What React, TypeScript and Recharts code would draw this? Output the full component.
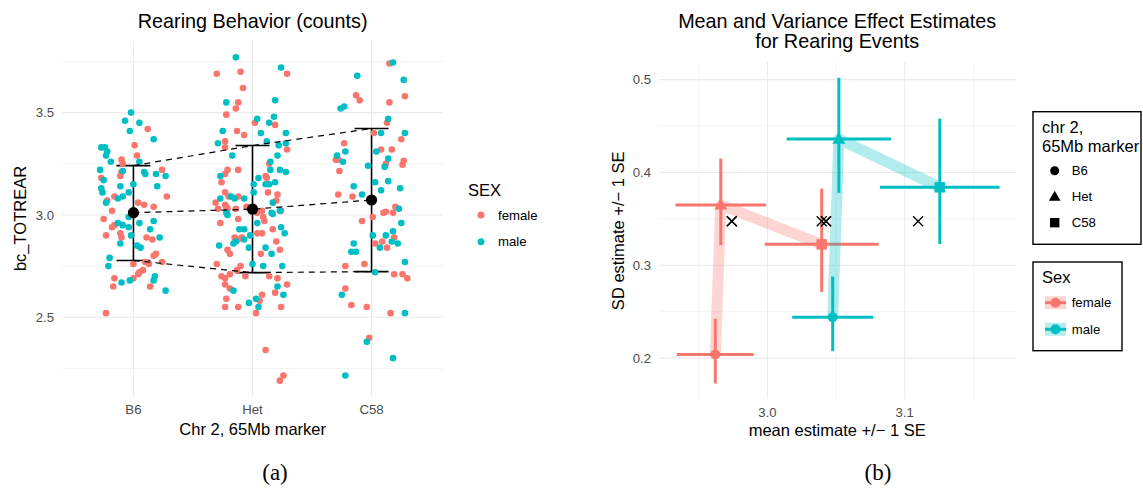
import React from 'react';
import { ComposedChart, Scatter, XAxis, YAxis, ReferenceLine, ErrorBar } from 'recharts';

const RED = '#F8766D';
const CYAN = '#00BFC4';
const GRID = '#EBEBEB';
const TICK = '#4D4D4D';
const FONT = '"Liberation Sans", Arial, Helvetica, sans-serif';

const genotypes = ['B6', 'Het', 'C58'];

// ---- Panel (a): jittered observations [jitter (category units), bc_TOTREAR] ----
const b6Female: [number, number][] = [
  [0.12, 3.42], [0.01, 3.34], [0.03, 3.29], [-0.1, 3.27], [-0.09, 3.25], [0.24, 3.22], [-0.1, 3.21], [-0.11, 3.19],
  [-0.27, 3.18], [-0.16, 3.09], [0.28, 3.09], [-0.22, 3.07], [0.04, 3.06], [0.09, 3.05], [0.17, 3.04], [-0.18, 3.02],
  [-0.25, 2.98], [-0.18, 2.94], [-0.16, 2.95], [-0.23, 2.9], [-0.11, 2.91], [-0.1, 2.89], [0.11, 2.89], [0.16, 2.88],
  [0.19, 2.81], [0.17, 2.8], [0.0, 2.76], [0.1, 2.77], [0.13, 2.76], [0.24, 2.77], [0.08, 2.73], [0.05, 2.72],
  [0.04, 2.71], [-0.16, 2.69], [0.0, 2.69], [-0.17, 2.65], [0.14, 2.65], [-0.23, 2.52],
];
const b6Male: [number, number][] = [
  [-0.02, 3.5], [-0.07, 3.46], [0.05, 3.45], [-0.03, 3.41], [0.17, 3.37], [-0.27, 3.33], [-0.24, 3.33], [-0.22, 3.31],
  [-0.23, 3.29], [-0.19, 3.26], [0.05, 3.26], [-0.28, 3.22], [-0.09, 3.215], [0.09, 3.21], [0.1, 3.2], [0.19, 3.2],
  [0.27, 3.19], [-0.25, 3.17], [0.0, 3.15], [-0.27, 3.13], [-0.26, 3.11], [-0.11, 3.14], [0.2, 3.14], [-0.09, 3.09],
  [-0.13, 3.08], [-0.04, 3.11], [-0.23, 3.06], [-0.04, 2.99], [0.05, 2.96], [0.17, 2.97], [-0.13, 2.96], [-0.09, 2.95],
  [-0.04, 2.94], [-0.02, 2.9], [0.14, 2.93], [0.22, 2.89], [-0.11, 2.86], [0.03, 2.85], [0.06, 2.84], [-0.2, 2.79],
  [-0.21, 2.75], [0.18, 2.7], [0.17, 2.68], [-0.1, 2.67], [-0.03, 2.68], [0.27, 2.63],
];
const hetFemale: [number, number][] = [
  [-0.3, 3.69], [-0.1, 3.7], [-0.08, 3.62], [-0.12, 3.55], [-0.14, 3.52], [-0.22, 3.49], [0.02, 3.45], [0.19, 3.44],
  [-0.13, 3.41], [-0.07, 3.39], [-0.23, 3.36], [-0.23, 3.33], [0.14, 3.25], [-0.21, 3.22], [-0.23, 3.2], [-0.12, 3.22],
  [-0.26, 3.16], [0.11, 3.19], [0.12, 3.18], [-0.23, 3.11], [-0.2, 3.09], [-0.12, 3.09], [0.21, 3.1], [0.2, 3.07],
  [-0.23, 3.05], [-0.21, 3.03], [-0.29, 3.03], [0.24, 3.02], [0.29, 3.69], [0.29, 3.32], [0.13, 3.11], [-0.22, 3.04],
  [-0.14, 3.03], [0.04, 3.01], [0.08, 3.02], [-0.31, 3.06], [-0.05, 3.04],
  [-0.27, 2.96], [-0.12, 2.98], [0.09, 2.99], [0.1, 2.97], [-0.15, 2.89], [-0.12, 2.88], [-0.09, 2.89], [0.04, 2.91],
  [0.08, 2.91], [0.17, 2.93], [0.2, 2.87], [-0.21, 2.83], [-0.19, 2.81], [0.07, 2.81], [0.23, 2.83], [-0.3, 2.76],
  [-0.1, 2.75], [-0.13, 2.73], [-0.26, 2.7], [-0.23, 2.69], [-0.19, 2.71], [-0.06, 2.7], [0.14, 2.7], [0.21, 2.69],
  [-0.23, 2.66], [-0.19, 2.64], [0.19, 2.62], [0.08, 2.61], [-0.22, 2.59], [0.06, 2.58], [-0.12, 2.55], [-0.23, 2.55],
  [0.24, 2.55], [0.03, 2.52], [0.11, 2.34], [0.23, 2.19], [0.26, 2.215], [0.29, 2.66],
];
const hetMale: [number, number][] = [
  [-0.14, 3.77], [0.24, 3.72], [-0.22, 3.55], [0.19, 3.56], [0.04, 3.47], [0.18, 3.48], [0.14, 3.45], [-0.25, 3.41],
  [0.07, 3.4], [-0.29, 3.35], [-0.17, 3.29], [0.12, 3.36], [0.22, 3.34], [0.15, 3.26], [0.21, 3.29], [-0.27, 3.19],
  [0.05, 3.18], [0.15, 3.22], [0.23, 3.22], [0.14, 3.15], [0.19, 3.16], [-0.18, 3.09], [-0.15, 3.08], [-0.07, 3.08],
  [-0.27, 3.08], [0.01, 3.11], [0.17, 3.06], [-0.22, 3.01], [0.16, 3.01], [0.28, 3.4], [0.28, 3.35], [0.28, 3.21],
  [0.01, 3.15], [0.11, 3.15], [0.23, 3.02],
  [-0.21, 3.0], [0.04, 2.96], [0.17, 3.005], [-0.11, 2.93], [-0.07, 2.93], [-0.02, 2.9], [-0.07, 2.88], [0.24, 2.94],
  [-0.28, 2.85], [-0.16, 2.86], [-0.14, 2.87], [-0.03, 2.84], [0.11, 2.84], [0.16, 2.81], [0.0, 2.76], [0.09, 2.75],
  [0.25, 2.75], [-0.16, 2.63], [0.21, 2.65], [0.26, 2.61], [0.03, 2.59], [-0.03, 2.57], [0.05, 2.55], [0.27, 2.91],
];
const c58Female: [number, number][] = [
  [0.15, 3.74], [-0.13, 3.585], [-0.1, 3.56], [0.15, 3.55], [0.13, 3.45], [0.02, 3.4], [-0.23, 3.35], [-0.3, 3.27],
  [-0.28, 3.27], [-0.27, 3.215], [0.08, 3.32], [0.17, 3.32], [0.12, 3.25], [-0.28, 3.1], [-0.16, 3.09], [0.1, 3.01],
  [0.12, 3.015], [0.2, 3.04], [0.28, 3.58], [0.25, 3.37], [0.27, 3.265], [0.26, 3.245], [0.18, 3.01], [-0.08, 2.97],
  [0.01, 2.99], [0.03, 2.86], [0.09, 2.87], [0.13, 2.84], [-0.22, 2.75], [-0.06, 2.76], [0.19, 2.71], [-0.22, 2.64],
  [-0.17, 2.56], [-0.04, 2.55], [0.16, 2.52], [-0.02, 2.4], [0.19, 2.89], [0.26, 2.71], [0.3, 2.69],
];
const c58Male: [number, number][] = [
  [0.18, 3.745], [-0.12, 3.68], [-0.26, 3.52], [-0.23, 3.53], [0.14, 3.47], [0.08, 3.4], [-0.29, 3.29], [-0.22, 3.31],
  [-0.24, 3.26], [0.04, 3.31], [0.14, 3.275], [0.11, 3.235], [-0.03, 3.24], [0.03, 3.16], [0.14, 3.165], [0.08, 3.12],
  [-0.15, 3.14], [-0.08, 3.1], [0.27, 3.66], [0.28, 3.4], [0.24, 3.13], [0.23, 3.03], [0.25, 2.96], [0.01, 2.9],
  [0.12, 2.9], [0.18, 2.92], [0.17, 2.87], [-0.15, 2.86], [-0.17, 2.82], [-0.13, 2.82], [0.07, 2.84], [0.03, 2.72],
  [-0.25, 2.61], [-0.04, 2.38], [0.18, 2.3], [-0.22, 2.215], [0.22, 2.86], [0.28, 2.77], [0.28, 2.52],
];

const summaryMean = [3.011, 3.028, 3.073];
const summaryUpper = [3.241, 3.339, 3.422];
const summaryLower = [2.777, 2.718, 2.723];

const leftYTicks = [2.5, 3.0, 3.5];
const leftYMinor = [2.25, 2.75, 3.25, 3.75];

// ---- Panel (b): mean / SD estimates ----
const femaleMean = [2.962, 2.966, 3.0395];
const femaleMeanLow = [2.934, 2.933, 2.998];
const femaleMeanHigh = [2.99, 2.999, 3.081];
const femaleSD = [0.204, 0.365, 0.3226];
const femaleSDLow = [0.1727, 0.3217, 0.2713];
const femaleSDHigh = [0.2425, 0.415, 0.3826];

const maleMean = [3.0475, 3.052, 3.1255];
const maleMeanLow = [3.018, 3.014, 3.082];
const maleMeanHigh = [3.077, 3.09, 3.169];
const maleSD = [0.244, 0.436, 0.384];
const maleSDLow = [0.2075, 0.378, 0.323];
const maleSDHigh = [0.288, 0.502, 0.458];

const crossMean = [2.974, 2.974, 3.0395, 3.0426, 3.0426, 3.1097];
const crossSD = [0.3474, 0.3474, 0.3474, 0.3474, 0.3474, 0.3474];

const rightXTicks = [3.0, 3.1];
const rightXMinor = [2.95, 3.05, 3.15];
const rightYTicks = [0.2, 0.3, 0.4, 0.5];
const rightYMinor = [0.25, 0.35, 0.45];

// ---- derived data ----
const toPts = (arr: [number, number][], idx: number) => arr.map(([j, v]) => ({ x: idx + 1 + j, y: v }));
const femaleObs = [...toPts(b6Female, 0), ...toPts(hetFemale, 1), ...toPts(c58Female, 2)];
const maleObs = [...toPts(b6Male, 0), ...toPts(hetMale, 1), ...toPts(c58Male, 2)];
const summaryPts = genotypes.map((g, i) => ({
  x: i + 1,
  y: summaryMean[i],
  err: [summaryMean[i] - summaryLower[i], summaryUpper[i] - summaryMean[i]],
}));
const lineOf = (vals: number[]) => vals.map((v, i) => ({ x: i + 1, y: v }));

const est = (m: number[], ml: number[], mh: number[], s: number[], sl: number[], sh: number[]) =>
  genotypes.map((g, i) => ({
    geno: g,
    x: m[i],
    y: s[i],
    xErr: [m[i] - ml[i], mh[i] - m[i]],
    yErr: [s[i] - sl[i], sh[i] - s[i]],
  }));
const femaleEst = est(femaleMean, femaleMeanLow, femaleMeanHigh, femaleSD, femaleSDLow, femaleSDHigh);
const maleEst = est(maleMean, maleMeanLow, maleMeanHigh, maleSD, maleSDLow, maleSDHigh);
const crossPts = crossMean.map((m, i) => ({ x: m, y: crossSD[i] }));

const empty = () => <g />;
const dot = (color: string, r: number) => (p: any) => <circle cx={p.cx} cy={p.cy} r={r} fill={color} />;

const GenoSymbol = ({ geno, cx, cy, color, s = 1 }: any) => {
  if (geno === 'B6') return <circle cx={cx} cy={cy} r={5 * s} fill={color} />;
  if (geno === 'Het')
    return (
      <polygon
        points={`${cx},${cy - 6.5 * s} ${cx - 6.5 * s},${cy + 4.6 * s} ${cx + 6.5 * s},${cy + 4.6 * s}`}
        fill={color}
      />
    );
  return <rect x={cx - 5.2 * s} y={cy - 5.2 * s} width={10.4 * s} height={10.4 * s} fill={color} />;
};
const genoShape = (color: string) => (p: any) => (
  <GenoSymbol geno={p.payload && p.payload.geno} cx={p.cx} cy={p.cy} color={color} />
);
const crossShape = (p: any) => (
  <g stroke="#000" strokeWidth={1.3}>
    <line x1={p.cx - 5} y1={p.cy - 5} x2={p.cx + 5} y2={p.cy + 5} />
    <line x1={p.cx - 5} y1={p.cy + 5} x2={p.cx + 5} y2={p.cy - 5} />
  </g>
);

const tickStyle = { fill: TICK, fontSize: 13.2 };

function LeftChart() {
  return (
    <ComposedChart width={560} height={440} margin={{ top: 41, right: 117, bottom: 14, left: 12 }}>
      {leftYMinor.map((v) => (
        <ReferenceLine key={'ym' + v} y={v} stroke={GRID} strokeWidth={0.6} />
      ))}
      {leftYTicks.map((v) => (
        <ReferenceLine key={'y' + v} y={v} stroke={GRID} strokeWidth={1.1} />
      ))}
      {[1, 2, 3].map((v) => (
        <ReferenceLine key={'x' + v} x={v} stroke={GRID} strokeWidth={1.1} />
      ))}
      <XAxis
        type="number"
        dataKey="x"
        domain={[0.4, 3.6]}
        ticks={[1, 2, 3]}
        interval={0}
        tickFormatter={(v: number) => genotypes[Math.round(v) - 1]}
        axisLine={false}
        tickLine={false}
        tickSize={6}
        tickMargin={3}
        height={30}
        tick={tickStyle}
        allowDataOverflow
      />
      <YAxis
        type="number"
        dataKey="y"
        domain={[2.115, 3.85]}
        ticks={leftYTicks}
        interval={0}
        tickFormatter={(v: number) => v.toFixed(1)}
        axisLine={false}
        tickLine={false}
        tickSize={6}
        tickMargin={2}
        width={50}
        tick={tickStyle}
        allowDataOverflow
      />
      <Scatter data={femaleObs} shape={dot(RED, 3.3)} isAnimationActive={false} />
      <Scatter data={maleObs} shape={dot(CYAN, 3.3)} isAnimationActive={false} />
      {[summaryUpper, summaryMean, summaryLower].map((vals, k) => (
        <Scatter
          key={'dash' + k}
          data={lineOf(vals)}
          line={{ stroke: '#000', strokeWidth: 1.2, strokeDasharray: '6 5' }}
          shape={empty}
          isAnimationActive={false}
        />
      ))}
      <Scatter data={summaryPts} shape={dot('#000', 5.6)} isAnimationActive={false}>
        <ErrorBar dataKey="err" direction="y" width={17} stroke="#000" strokeWidth={1.6} />
      </Scatter>
    </ComposedChart>
  );
}

function RightChart() {
  return (
    <ComposedChart width={563} height={440} margin={{ top: 62, right: 127, bottom: 11, left: 29 }}>
      {rightYMinor.map((v) => (
        <ReferenceLine key={'ym' + v} y={v} stroke={GRID} strokeWidth={0.6} />
      ))}
      {rightYTicks.map((v) => (
        <ReferenceLine key={'y' + v} y={v} stroke={GRID} strokeWidth={1.1} />
      ))}
      {rightXMinor.map((v) => (
        <ReferenceLine key={'xm' + v} x={v} stroke={GRID} strokeWidth={0.6} />
      ))}
      {rightXTicks.map((v) => (
        <ReferenceLine key={'x' + v} x={v} stroke={GRID} strokeWidth={1.1} />
      ))}
      <XAxis
        type="number"
        dataKey="x"
        domain={[2.921, 3.181]}
        ticks={rightXTicks}
        interval={0}
        tickFormatter={(v: number) => v.toFixed(1)}
        axisLine={false}
        tickLine={false}
        tickSize={6}
        tickMargin={3}
        height={30}
        tick={tickStyle}
        allowDataOverflow
      />
      <YAxis
        type="number"
        dataKey="y"
        domain={[0.156, 0.519]}
        ticks={rightYTicks}
        interval={0}
        tickFormatter={(v: number) => v.toFixed(1)}
        axisLine={false}
        tickLine={false}
        tickSize={6}
        tickMargin={2}
        width={50}
        tick={tickStyle}
        allowDataOverflow
      />
      <Scatter
        data={femaleEst}
        line={{ stroke: RED, strokeOpacity: 0.3, strokeWidth: 11, strokeLinejoin: 'round' }}
        shape={empty}
        isAnimationActive={false}
      />
      <Scatter
        data={maleEst}
        line={{ stroke: CYAN, strokeOpacity: 0.3, strokeWidth: 11, strokeLinejoin: 'round' }}
        shape={empty}
        isAnimationActive={false}
      />
      <Scatter data={femaleEst} shape={genoShape(RED)} isAnimationActive={false}>
        <ErrorBar dataKey="xErr" direction="x" width={0} stroke={RED} strokeWidth={3} />
        <ErrorBar dataKey="yErr" direction="y" width={0} stroke={RED} strokeWidth={3} />
      </Scatter>
      <Scatter data={maleEst} shape={genoShape(CYAN)} isAnimationActive={false}>
        <ErrorBar dataKey="xErr" direction="x" width={0} stroke={CYAN} strokeWidth={3} />
        <ErrorBar dataKey="yErr" direction="y" width={0} stroke={CYAN} strokeWidth={3} />
      </Scatter>
      <Scatter data={crossPts} shape={crossShape} isAnimationActive={false} />
    </ComposedChart>
  );
}

function Overlay() {
  const t = (x: number, y: number, s: string, size: number, anchor: string = 'start', fill = '#000', extra: any = {}) => (
    <text x={x} y={y} fontSize={size} textAnchor={anchor} fill={fill} {...extra}>
      {s}
    </text>
  );
  return (
    <svg
      width={1143}
      height={491}
      style={{ position: 'absolute', left: 0, top: 0, pointerEvents: 'none', fontFamily: FONT }}
    >
      {/* panel (a) texts */}
      {t(252.7, 28, 'Rearing Behavior (counts)', 19.8, 'middle')}
      {t(252.7, 435, 'Chr 2, 65Mb marker', 16.5, 'middle')}
      <text x={0} y={0} fontSize={16.5} textAnchor="middle" transform="translate(25.5,218.5) rotate(-90)">
        bc_TOTREAR
      </text>
      {t(468, 196, 'SEX', 16.5)}
      <circle cx={481} cy={215} r={3.5} fill={RED} />
      {t(498, 219.6, 'female', 13.2)}
      <circle cx={481} cy={241.7} r={3.5} fill={CYAN} />
      {t(498, 246.3, 'male', 13.2)}

      {/* panel (b) texts */}
      {t(837.2, 27.5, 'Mean and Variance Effect Estimates', 19.8, 'middle')}
      {t(837.2, 48, 'for Rearing Events', 19.8, 'middle')}
      {t(837.2, 436, 'mean estimate +/\u2212 1 SE', 16.5, 'middle')}
      <text x={0} y={0} fontSize={16.5} textAnchor="middle" transform="translate(624,230.8) rotate(-90)">
        SD estimate +/{'\u2212'} 1 SE
      </text>

      {/* legend: marker */}
      <rect x={1033} y={111.7} width={108} height={132.6} fill="#fff" stroke="#000" strokeWidth={1.4} />
      {t(1042, 133, 'chr 2,', 16.5)}
      {t(1042, 152, '65Mb marker', 16.5)}
      {genotypes.map((g, i) => (
        <g key={g}>
          <GenoSymbol geno={g} cx={1054.7} cy={170.7 + i * 26} color="#000" s={0.9} />
          {t(1071.7, 175.3 + i * 26, g, 13.2)}
        </g>
      ))}

      {/* legend: sex */}
      <rect x={1033} y={262} width={89} height={88.7} fill="#fff" stroke="#000" strokeWidth={1.4} />
      {t(1042, 283.3, 'Sex', 16.5)}
      {[
        ['female', RED],
        ['male', CYAN],
      ].map(([lab, col], i) => {
        const cy = 302.7 + i * 26.6;
        return (
          <g key={lab}>
            <rect x={1045} y={cy - 6.5} width={21} height={13} fill={col} fillOpacity={0.3} />
            <line x1={1045} y1={cy} x2={1066} y2={cy} stroke={col} strokeWidth={3} />
            <circle cx={1055.5} cy={cy} r={5} fill={col} />
            {t(1071.7, cy + 4.6, lab, 13.2)}
          </g>
        );
      })}

      {/* sub-captions */}
      <text x={275} y={480} fontSize={23} textAnchor="middle" fontFamily='"Liberation Serif", "Times New Roman", serif'>
        (a)
      </text>
      <text x={878} y={480} fontSize={23} textAnchor="middle" fontFamily='"Liberation Serif", "Times New Roman", serif'>
        (b)
      </text>
    </svg>
  );
}

export default function App() {
  return (
    <div style={{ position: 'relative', width: 1143, height: 491, background: '#fff', fontFamily: FONT, overflow: 'hidden' }}>
      <style>{'body{margin:0;}'}</style>
      <div style={{ position: 'absolute', left: 0, top: 0 }}>
        <LeftChart />
      </div>
      <div style={{ position: 'absolute', left: 580, top: 0 }}>
        <RightChart />
      </div>
      <Overlay />
    </div>
  );
}
